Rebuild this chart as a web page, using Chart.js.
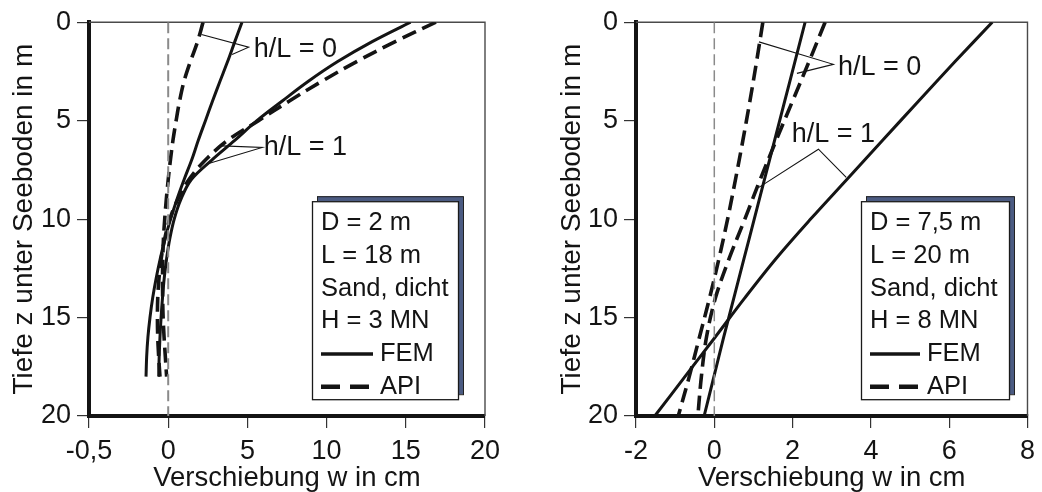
<!DOCTYPE html>
<html>
<head>
<meta charset="utf-8">
<script src="https://cdn.jsdelivr.net/npm/chart.js@4"></script>
<style>
  html, body { margin: 0; padding: 0; background: #fff; }
  #wrap { position: relative; width: 1042px; height: 492px; overflow: hidden; }
  .panel { position: absolute; top: 0; width: 521px; height: 492px; }
</style>
</head>
<body>
<div id="wrap">
  <div class="panel" style="left:0"><canvas id="pileA" width="521" height="492"></canvas></div>
  <div class="panel" style="left:521px"><canvas id="pileB" width="521" height="492"></canvas></div>
</div>
<script>
// Pile A: D = 2 m, L = 18 m -- depth z (m) and displacement w (cm)
const depthA = [0, 1, 2, 3, 4, 5, 6, 7, 8, 9, 10, 11, 12, 13, 14, 15, 16, 17, 18];
const femA0 = [4.66, 4.2, 3.75, 3.27, 2.8, 2.35, 1.9, 1.48, 1.0, 0.55, 0.15, -0.2, -0.5, -0.76, -0.98, -1.15, -1.28, -1.36, -1.4];
const apiA0 = [2.2, 1.85, 1.4, 1.0, 0.72, 0.5, 0.3, 0.14, 0.0, -0.12, -0.22, -0.3, -0.34, -0.36, -0.35, -0.32, -0.26, -0.18, -0.1];
const femA1 = [15.3, 12.85, 10.7, 8.85, 7.2, 5.6, 4.2, 2.75, 1.45, 0.8, 0.38, 0.1, -0.1, -0.25, -0.36, -0.45, -0.52, -0.57, -0.6];
const apiA1 = [16.9, 14.3, 11.9, 9.7, 7.65, 5.7, 3.75, 2.35, 1.3, 0.6, 0.1, -0.22, -0.44, -0.58, -0.66, -0.68, -0.66, -0.6, -0.52];

// Pile B: D = 7,5 m, L = 20 m
const depthB = [0, 2, 4, 6, 8, 10, 12, 14, 16, 18, 20];
const femB0 = [2.32, 2.06, 1.8, 1.54, 1.28, 1.02, 0.76, 0.5, 0.24, -0.01, -0.26];
const apiB0 = [1.24, 1.08, 0.91, 0.73, 0.54, 0.34, 0.12, -0.12, -0.38, -0.64, -0.92];
const femB1 = [7.1, 6.15, 5.22, 4.3, 3.38, 2.46, 1.58, 0.78, 0.02, -0.75, -1.52];
const apiB1 = [2.83, 2.42, 2.0, 1.58, 1.17, 0.78, 0.38, 0.03, -0.2, -0.33, -0.42];

// axis ticks
const depthTicks = [0, 5, 10, 15, 20];
const xTicksA = [-5, 0, 5, 10, 15, 20];
const xTickLabelsA = ['-0,5', '0', '5', '10', '15', '20'];
const xTicksB = [-2, 0, 2, 4, 6, 8];
const xTickLabelsB = ['-2', '0', '2', '4', '6', '8'];

// texts
const infoA = ['D = 2 m', 'L = 18 m', 'Sand, dicht', 'H = 3 MN'];
const infoB = ['D = 7,5 m', 'L = 20 m', 'Sand, dicht', 'H = 8 MN'];
const seriesNames = ['FEM', 'API'];
const ratioLabels = ['h/L = 0', 'h/L = 1'];
const xTitle = 'Verschiebung w in cm';
const yTitle = 'Tiefe z unter Seeboden in m';

// leader lines (w, z) pointing from the h/L labels to the curves
const leaderA0 = [[2.1, 0.62], [5.08, 1.27], [4.03, 1.64]];
const leaderA1 = [[3.4, 6.28], [5.93, 6.36], [2.45, 7.2]];
const leaderB0 = [[1.14, 1.0], [3.04, 2.14], [2.11, 2.6]];
const leaderB1 = [[1.14, 8.39], [2.66, 6.45], [3.37, 7.88]];
const labelAnchorA = [[5.4, 1.38], [6.03, 6.36]];
const labelAnchorB = [[3.16, 2.31], [1.98, 5.69]];

const FONT = '"Liberation Sans", Arial, Helvetica, sans-serif';
const INK = '#141414';
Chart.defaults.font.family = FONT;
Chart.defaults.color = INK;

const toPts = (ws, zs) => zs.map((z, i) => ({ x: ws[i], y: z }));
const pairPts = (arr) => arr.map(p => ({ x: p[0], y: p[1] }));

function curve(ws, zs, dashed) {
  return {
    data: toPts(ws, zs),
    showLine: true,
    borderColor: INK,
    borderWidth: dashed ? 3.6 : 3,
    borderDash: dashed ? [15, 7] : [],
    borderCapStyle: 'butt',
    tension: 0.35,
    pointRadius: 0,
    fill: false
  };
}
function leader(arr) {
  return { data: pairPts(arr), showLine: true, borderColor: INK, borderWidth: 1.1,
           tension: 0, pointRadius: 0, fill: false };
}
function zeroLine(width) {
  return { data: [{ x: 0, y: 0 }, { x: 0, y: 20 }], showLine: true, borderColor: '#8a8a8a',
           borderWidth: width, borderDash: [11, 5], tension: 0, pointRadius: 0, fill: false };
}

const panelDecor = {
  id: 'panelDecor',
  beforeDatasetsDraw(chart) {
    const { ctx, chartArea: a } = chart;
    ctx.save();
    ctx.strokeStyle = '#4a4a4a';
    ctx.lineWidth = 1.4;
    ctx.beginPath();
    ctx.moveTo(a.left, a.top);
    ctx.lineTo(a.right, a.top);
    ctx.lineTo(a.right, a.bottom);
    ctx.stroke();
    ctx.restore();
  },
  afterDatasetsDraw(chart, args, opts) {
    const { ctx, chartArea: a, scales: { x, y } } = chart;
    ctx.save();
    // h/L labels
    ctx.font = '27px ' + FONT;
    ctx.fillStyle = INK;
    ctx.textAlign = 'left';
    ctx.textBaseline = 'middle';
    opts.labels.forEach((t, i) => {
      ctx.fillText(t, x.getPixelForValue(opts.anchors[i][0]), y.getPixelForValue(opts.anchors[i][1]));
    });
    // info box with offset shadow
    const bl = a.left + opts.box.dx, bt = a.top + opts.box.dy, bw = opts.box.w, bh = opts.box.h;
    ctx.fillStyle = '#4b5b82';
    ctx.strokeStyle = '#222';
    ctx.lineWidth = 1;
    ctx.fillRect(bl + 5, bt - 5, bw, bh);
    ctx.strokeRect(bl + 5.5, bt - 4.5, bw, bh);
    ctx.fillStyle = '#fff';
    ctx.fillRect(bl, bt, bw, bh);
    ctx.lineWidth = 1.3;
    ctx.strokeStyle = '#1a1a1a';
    ctx.strokeRect(bl + 0.5, bt + 0.5, bw, bh);
    ctx.fillStyle = INK;
    ctx.font = '25.5px ' + FONT;
    const step = 32.7;
    opts.info.forEach((t, i) => ctx.fillText(t, bl + 9, bt + 22 + i * step));
    seriesNames.forEach((t, i) => {
      const yy = bt + 22 + (4 + i) * step;
      ctx.beginPath();
      ctx.strokeStyle = INK;
      ctx.lineWidth = i === 0 ? 3.5 : 4.5;
      ctx.setLineDash(i === 0 ? [] : [19, 10]);
      ctx.moveTo(bl + 9, yy);
      ctx.lineTo(bl + opts.box.sample, yy);
      ctx.stroke();
      ctx.setLineDash([]);
      ctx.fillText(t, bl + opts.box.sample + 7, yy);
    });
    ctx.restore();
  }
};

function buildPanel(canvasId, cfg) {
  return new Chart(document.getElementById(canvasId), {
    type: 'scatter',
    data: { datasets: cfg.datasets },
    options: {
      responsive: false,
      animation: false,
      devicePixelRatio: 1,
      layout: { padding: { top: 21, right: cfg.padRight, left: 0, bottom: 0 } },
      plugins: {
        legend: { display: false },
        tooltip: { enabled: false },
        panelDecor: { labels: ratioLabels, anchors: cfg.anchors, info: cfg.info, box: cfg.box }
      },
      scales: {
        x: {
          type: 'linear',
          position: 'bottom',
          min: cfg.xTicks[0],
          max: cfg.xTicks[cfg.xTicks.length - 1],
          afterBuildTicks: (s) => { s.ticks = cfg.xTicks.map(v => ({ value: v })); },
          afterFit: (s) => { s.height = 76; },
          ticks: {
            autoSkip: false, maxRotation: 0, padding: 7,
            font: { size: 27, lineHeight: 1.2 }, color: INK,
            callback: (v) => cfg.xLabels[cfg.xTicks.indexOf(v)]
          },
          grid: { drawOnChartArea: false, drawTicks: true, tickLength: 12, color: '#333', lineWidth: 1.2 },
          border: { display: true, width: 4, color: INK },
          title: { display: true, text: xTitle, color: INK, font: { size: 27.5, lineHeight: 1 }, padding: { top: 0, bottom: 0 } }
        },
        y: {
          type: 'linear',
          position: 'left',
          reverse: true,
          min: 0,
          max: 20,
          afterBuildTicks: (s) => { s.ticks = depthTicks.map(v => ({ value: v })); },
          afterFit: (s) => { s.width = cfg.yWidth; },
          ticks: { autoSkip: false, padding: 6, font: { size: 27 }, color: INK },
          grid: { drawOnChartArea: false, drawTicks: true, tickLength: 12, color: '#333', lineWidth: 1.2 },
          border: { display: true, width: 4, color: INK },
          title: { display: true, text: yTitle, color: INK, font: { size: 28, lineHeight: 1 }, padding: { top: cfg.yTitlePad, bottom: 0 } }
        }
      }
    },
    plugins: [panelDecor]
  });
}

buildPanel('pileA', {
  datasets: [
    zeroLine(2),
    curve(femA0, depthA, false),
    curve(apiA0, depthA, true),
    curve(femA1, depthA, false),
    curve(apiA1, depthA, true),
    leader(leaderA0),
    leader(leaderA1)
  ],
  xTicks: xTicksA, xLabels: xTickLabelsA,
  padRight: 36, yWidth: 89, yTitlePad: 10,
  anchors: labelAnchorA, info: infoA,
  box: { dx: 223, dy: 179, w: 146, h: 198, sample: 61 }
});

buildPanel('pileB', {
  datasets: [
    zeroLine(1.5),
    curve(femB0, depthB, false),
    curve(apiB0, depthB, true),
    curve(femB1, depthB, false),
    curve(apiB1, depthB, true),
    leader(leaderB0),
    leader(leaderB1)
  ],
  xTicks: xTicksB, xLabels: xTickLabelsB,
  padRight: 10, yWidth: 115, yTitlePad: 37,
  anchors: labelAnchorB, info: infoB,
  box: { dx: 225, dy: 179, w: 148, h: 198, sample: 59 }
});
</script>
</body>
</html>
